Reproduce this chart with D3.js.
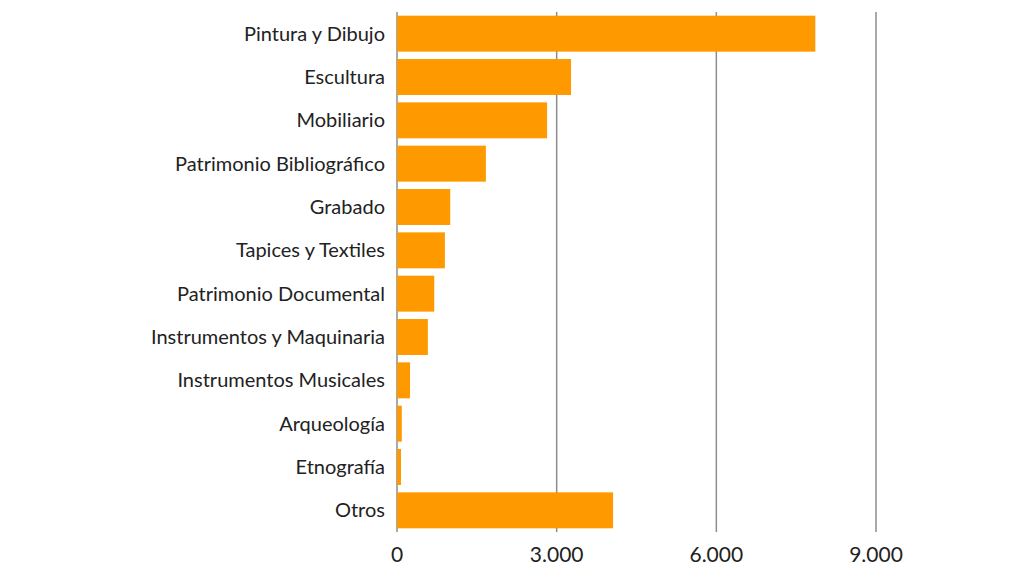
<!DOCTYPE html>
<html>
<head>
<meta charset="utf-8">
<script src="https://cdn.jsdelivr.net/npm/d3@7"></script>
<style>
  body { margin: 0; background: #fff; }
  text { font-family: Lato, "Noto Sans", sans-serif; fill: #222; }
</style>
</head>
<body>
<svg id="chart" width="1015" height="578"></svg>
<script>
var categories = ['Pintura y Dibujo', 'Escultura', 'Mobiliario', 'Patrimonio Bibliográfico', 'Grabado',
  'Tapices y Textiles', 'Patrimonio Documental', 'Instrumentos y Maquinaria', 'Instrumentos Musicales',
  'Arqueología', 'Etnografía', 'Otros'];
var values = [7860, 3270, 2820, 1670, 1000, 900, 700, 580, 245, 90, 75, 4060];
var ticks = [0, 3000, 6000, 9000];

var svg = d3.select('#chart');

// scales
var x = d3.scaleLinear().domain([0, 9000]).range([397, 876]);
var y = d3.scaleBand().domain(categories).range([12, 532]).paddingInner(0.17).paddingOuter(0.085);

var fmt = function(d) { return d3.format(',')(d).replace(/,/g, '.'); };

// gridlines
svg.selectAll('line.grid')
  .data(ticks)
  .enter().append('line')
  .attr('x1', function(d) { return x(d); })
  .attr('x2', function(d) { return x(d); })
  .attr('y1', 12).attr('y2', 532)
  .attr('stroke', '#8c8c8c').attr('stroke-width', 1.5);

// bars
svg.selectAll('rect.bar')
  .data(values)
  .enter().append('rect')
  .attr('x', x(0))
  .attr('y', function(d, i) { return y(categories[i]); })
  .attr('width', function(d) { return x(d) - x(0); })
  .attr('height', y.bandwidth())
  .attr('fill', '#ff9900');

// category labels
svg.selectAll('text.cat')
  .data(categories)
  .enter().append('text')
  .attr('x', 385)
  .attr('y', function(d) { return y(d) + y.bandwidth() / 2; })
  .attr('dy', '0.35em')
  .attr('text-anchor', 'end')
  .attr('font-size', 20)
  .text(function(d) { return d; });

// tick labels
svg.selectAll('text.tick')
  .data(ticks)
  .enter().append('text')
  .attr('x', function(d) { return x(d); })
  .attr('y', 562)
  .attr('text-anchor', 'middle')
  .attr('font-size', 21)
  .text(fmt);
</script>
</body>
</html>
